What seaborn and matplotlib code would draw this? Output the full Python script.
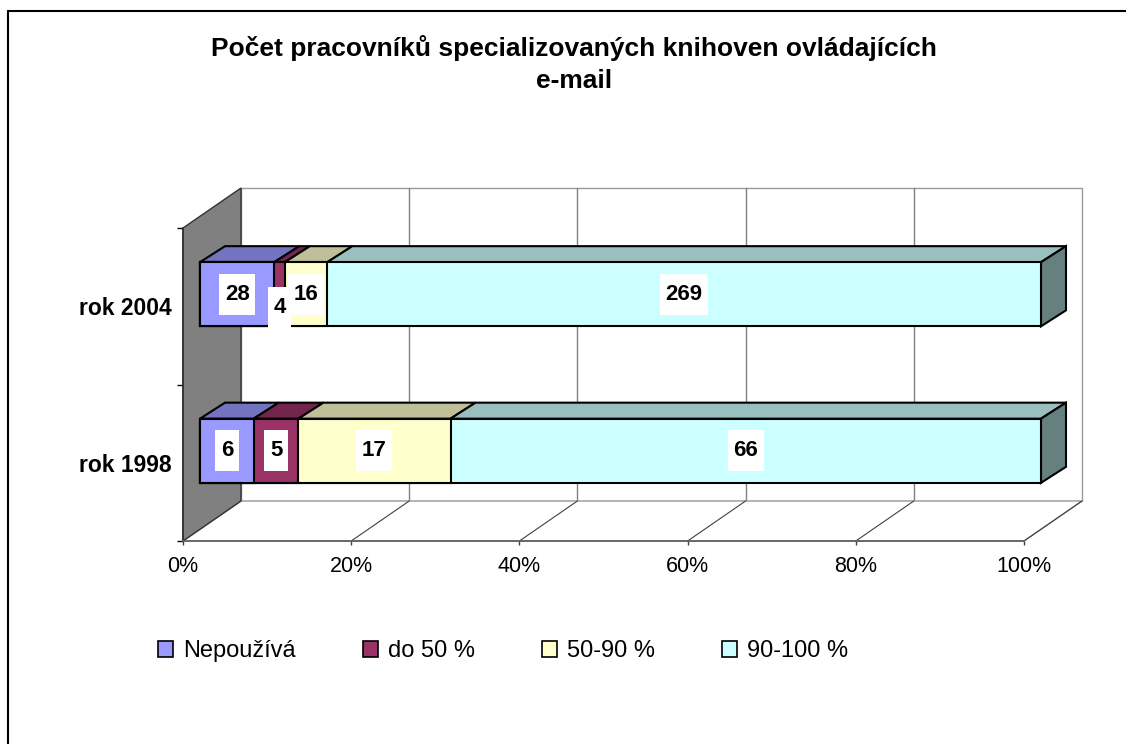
import numpy as np
import pandas as pd
import matplotlib
matplotlib.use("Agg")
import matplotlib.pyplot as plt
import matplotlib.transforms as mtransforms
from matplotlib.patches import Polygon, Patch
from matplotlib.lines import Line2D
from matplotlib.path import Path
import seaborn as sns

# data
years = ["rok 2004", "rok 1998"]
series = ["Nepoužívá", "do 50 %", "50-90 %", "90-100 %"]
nepouziva = [28, 6]
do_50 = [4, 5]
od_50_90 = [16, 17]
od_90_100 = [269, 66]
x_ticks = [0, 20, 40, 60, 80, 100]
x_tick_labels = ["0%", "20%", "40%", "60%", "80%", "100%"]

front_colors = ["#9999FF", "#993366", "#FFFFCC", "#CCFFFF"]
top_colors = ["#7373BF", "#73264D", "#BFBF99", "#99BFBF"]
side_color = "#668080"

counts = pd.DataFrame({"year": years, series[0]: nepouziva, series[1]: do_50,
                       series[2]: od_50_90, series[3]: od_90_100}).set_index("year")
pct = counts.div(counts.sum(axis=1), axis=0) * 100
cum = pct.cumsum(axis=1)
left = cum - pct

sns.set_theme(style="white")
plt.rcParams["font.family"] = ["Liberation Sans", "DejaVu Sans"]
plt.rcParams["text.color"] = "black"
plt.rcParams["xtick.color"] = "black"
plt.rcParams["ytick.color"] = "black"
plt.rcParams["axes.labelcolor"] = "black"

W, H = 1126, 744
fig = plt.figure(figsize=(W / 100, H / 100), dpi=100)
fig.patch.set_facecolor("white")

# front plane of the 3D box in pixels
x0px, x1px, y0px, y1px = 183, 1024, 228, 541
ax = fig.add_axes([x0px / W, 1 - y1px / H, (x1px - x0px) / W, (y1px - y0px) / H])
ax.patch.set_visible(False)

px_x = 100 / (x1px - x0px)
px_y = 2 / (y1px - y0px)


def depth(right, up):
    # pixel offset of a depth plane -> data offset
    return right * px_x, -up * px_y


fx, fy = depth(17, 12)   # bar front
bx, by = depth(42, 28)   # bar back
wx, wy = depth(58, 40)   # back wall

# --- walls and floor ---
ax.add_patch(Polygon([(wx, -0.5 + wy), (100 + wx, -0.5 + wy), (100 + wx, 1.5 + wy), (wx, 1.5 + wy)],
                     closed=True, facecolor="white", edgecolor="#9a9a9a", lw=1, zorder=0.5, clip_on=False))
for xt in x_ticks[1:-1]:
    ax.plot([xt + wx, xt + wx], [-0.5 + wy, 1.5 + wy], color="#808080", lw=1, zorder=0.6, clip_on=False)
ax.add_patch(Polygon([(0, -0.5), (wx, -0.5 + wy), (wx, 1.5 + wy), (0, 1.5)],
                     closed=True, facecolor="#808080", edgecolor="#333333", lw=1, zorder=0.7, clip_on=False))
ax.add_patch(Polygon([(0, 1.5), (100, 1.5), (100 + wx, 1.5 + wy), (wx, 1.5 + wy)],
                     closed=True, facecolor="white", edgecolor="#9a9a9a", lw=1, zorder=0.6, clip_on=False))
for xt in x_ticks[1:]:
    ax.plot([xt, xt + wx], [1.5, 1.5 + wy], color="#404040", lw=0.8, zorder=0.7, clip_on=False)

# --- bar front faces (stacked by overdrawing cumulative sums) ---
for i in reversed(range(len(series))):
    sns.barplot(x=cum[series[i]].values, y=years, orient="h", color=front_colors[i],
                saturation=1, width=0.41, edgecolor="black", linewidth=1.5, ax=ax, zorder=5)
shift = mtransforms.ScaledTranslation(17 / 100, 12 / 100, fig.dpi_scale_trans)
for p in ax.patches:
    if p.get_zorder() == 5:
        p.set_transform(ax.transData + shift)
        p.set_clip_on(False)

# --- top and side faces ---
half = 0.41 / 2
for j, yr in enumerate(years):
    yt, yb = j - half, j + half
    for i, s in enumerate(series):
        xl, xr = left.loc[yr, s], cum.loc[yr, s]
        ax.add_patch(Polygon([(xl + fx, yt + fy), (xr + fx, yt + fy), (xr + bx, yt + by), (xl + bx, yt + by)],
                             closed=True, facecolor=top_colors[i], edgecolor="black", lw=1.5,
                             zorder=4, clip_on=False))
    ax.add_patch(Polygon([(100 + fx, yt + fy), (100 + bx, yt + by), (100 + bx, yb + by), (100 + fx, yb + fy)],
                         closed=True, facecolor=side_color, edgecolor="black", lw=1.5, zorder=4, clip_on=False))


# Excel-like label box: narrow at the sides, tall above and below
def label_box(x0, y0, width, height, mutation_size):
    px, py = 0.25 * mutation_size, 0.45 * mutation_size
    return Path([(x0 - px, y0 - py), (x0 + width + px, y0 - py), (x0 + width + px, y0 + height + py),
                 (x0 - px, y0 + height + py), (x0 - px, y0 - py)], closed=True)


# --- data labels ---
nudge_down = {("rok 2004", "do 50 %"): 13}
for j, yr in enumerate(years):
    for s in series:
        xc = (left.loc[yr, s] + cum.loc[yr, s]) / 2 + fx
        dy = nudge_down.get((yr, s), 0)
        ax.annotate(str(counts.loc[yr, s]), (xc, j + fy), xytext=(0, -dy * 0.72), textcoords="offset points",
                    ha="center", va="center", fontsize=16, fontweight="bold", color="black", zorder=7,
                    annotation_clip=False,
                    bbox=dict(boxstyle=label_box, facecolor="white", edgecolor="none"))

# --- axes ---
ax.set_xlim(0, 100)
ax.set_ylim(1.5, -0.5)
ax.set_xlabel("")
ax.set_ylabel("")
ax.set_xticks(x_ticks)
ax.set_xticklabels(x_tick_labels, fontsize=15.5)
ax.set_yticks([-0.5, 0.5, 1.5])
ax.set_yticklabels([])
ax.set_yticks([0, 1], minor=True)
ax.set_yticklabels(years, minor=True, fontsize=16.5, fontweight="bold")
ax.tick_params(axis="x", which="major", direction="out", length=3, width=1, color="#404040", pad=8, bottom=True)
ax.tick_params(axis="y", which="major", direction="out", length=4, width=1, color="black", left=True)
ax.tick_params(axis="y", which="minor", length=0, pad=8, left=True)
for side in ["top", "right"]:
    ax.spines[side].set_visible(False)
ax.spines["left"].set_color("#333333")
ax.spines["bottom"].set_color("#606060")
ax.spines["left"].set_zorder(0.8)
ax.grid(False)

# --- title, legend, chart border ---
fig.text(574 / W, 1 - 64 / H, "Počet pracovníků specializovaných knihoven ovládajících\ne-mail",
         ha="center", va="center", fontsize=19, fontweight="bold", linespacing=1.42, color="black")

handles = [Patch(facecolor=c, edgecolor="black", lw=1.2) for c in front_colors]
fig.legend(handles, series, loc="center", bbox_to_anchor=(503 / W, 1 - 651 / H), ncol=4, frameon=False,
           fontsize=17, handlelength=0.65, handleheight=0.65, handletextpad=0.4, columnspacing=2.85)

fig.add_artist(Line2D([8 / W, 8 / W], [0, 1 - 11 / H], color="black", lw=1.5))
fig.add_artist(Line2D([8 / W, 1], [1 - 11 / H, 1 - 11 / H], color="black", lw=1.5))

fig.savefig("out.png", dpi=100)
